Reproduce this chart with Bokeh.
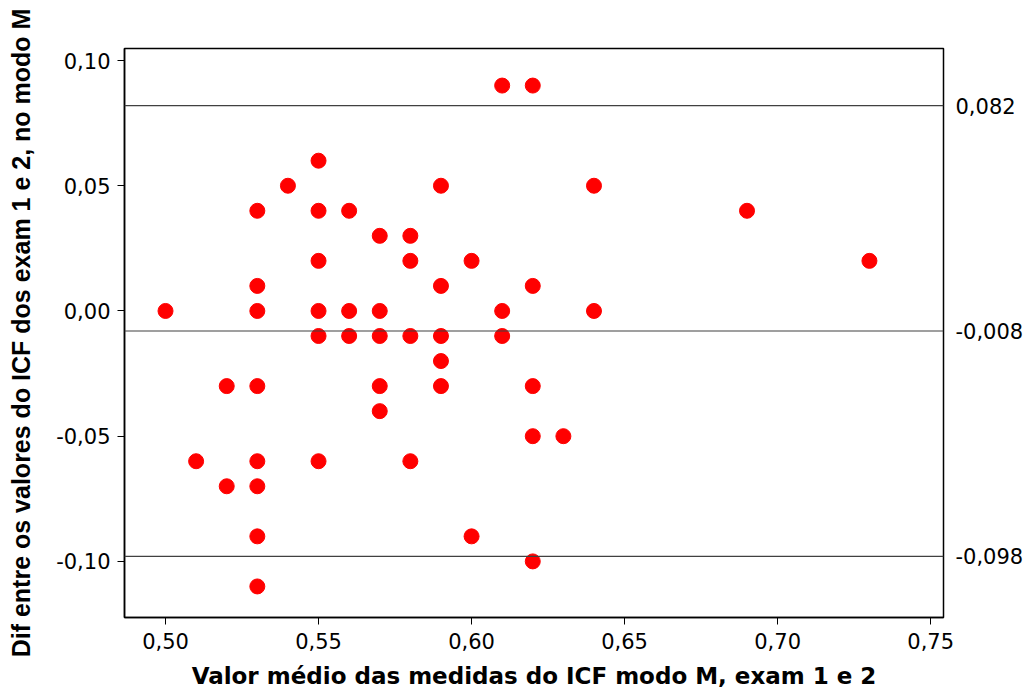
from bokeh.plotting import figure
from bokeh.models import FixedTicker, CustomJSTickFormatter, LinearAxis, Span, Range1d
from bokeh.embed import file_html
from bokeh.resources import INLINE

# data: mean of exam 1 & 2 (x), difference (y)
mean_vals = [0.50, 0.51, 0.52, 0.52, 0.53, 0.53, 0.53, 0.53, 0.53, 0.53, 0.53, 0.53,
             0.54, 0.55, 0.55, 0.55, 0.55, 0.55, 0.55, 0.56, 0.56, 0.56,
             0.57, 0.57, 0.57, 0.57, 0.57, 0.58, 0.58, 0.58, 0.58,
             0.59, 0.59, 0.59, 0.59, 0.59, 0.60, 0.60, 0.61, 0.61, 0.61,
             0.62, 0.62, 0.62, 0.62, 0.62, 0.63, 0.64, 0.64, 0.69, 0.73]
diff_vals = [0.00, -0.06, -0.03, -0.07, 0.04, 0.01, 0.00, -0.03, -0.06, -0.07, -0.09, -0.11,
             0.05, 0.06, 0.04, 0.02, 0.00, -0.01, -0.06, 0.04, 0.00, -0.01,
             0.03, 0.00, -0.01, -0.03, -0.04, 0.03, 0.02, -0.01, -0.06,
             0.05, 0.01, -0.01, -0.02, -0.03, 0.02, -0.09, 0.09, 0.00, -0.01,
             0.09, 0.01, -0.03, -0.05, -0.10, -0.05, 0.05, 0.00, 0.04, 0.02]
ref_lines = [0.082, -0.008, -0.098]
x_ticks = [0.50, 0.55, 0.60, 0.65, 0.70, 0.75]
y_ticks = [-0.10, -0.05, 0.00, 0.05, 0.10]

p = figure(width=1028, height=691, output_backend="svg", toolbar_location=None,
           x_range=Range1d(0.4866, 0.7542), y_range=Range1d(-0.1224, 0.1048),
           min_border_left=124, min_border_right=85, min_border_top=48, min_border_bottom=74)
p.grid.visible = False
p.outline_line_color = "black"
p.outline_line_width = 1.5
p.background_fill_color = "white"
p.border_fill_color = "white"

tick_font = "DejaVu Sans"

p.xaxis.ticker = FixedTicker(ticks=x_ticks)
p.yaxis.ticker = FixedTicker(ticks=y_ticks)
fmt2 = CustomJSTickFormatter(code="return tick.toFixed(2).replace('.', ',');")
p.xaxis.formatter = fmt2
p.yaxis.formatter = fmt2
for ax in (p.xaxis[0], p.yaxis[0]):
    ax.major_tick_out = 7
    ax.major_tick_in = 0
    ax.minor_tick_out = 0
    ax.minor_tick_in = 0
    ax.axis_line_color = "black"
    ax.axis_line_width = 1.5
    ax.major_tick_line_color = "black"
    ax.major_tick_line_width = 1
    ax.major_label_text_font = tick_font
    ax.major_label_text_font_size = "21px"
    ax.major_label_text_color = "black"
    ax.axis_label_text_color = "black"
    ax.axis_label_text_font_style = "bold"

p.xaxis.axis_label = "Valor médio das medidas do ICF modo M, exam 1 e 2"
p.xaxis.axis_label_text_font = "DejaVu Sans"
p.xaxis.axis_label_text_font_size = "23px"
p.xaxis.major_label_standoff = 8
p.xaxis.axis_label_standoff = 11

p.yaxis.axis_label = "Dif entre os valores do ICF dos exam 1 e 2, no modo M"
p.yaxis.axis_label_text_font = "Liberation Sans"
p.yaxis.axis_label_text_font_size = "25px"
p.yaxis.major_label_standoff = 7
p.yaxis.axis_label_standoff = 18

right = LinearAxis(ticker=FixedTicker(ticks=ref_lines),
                   formatter=CustomJSTickFormatter(code="return tick.toFixed(3).replace('.', ',');"))
right.major_tick_out = 0
right.major_tick_in = 0
right.minor_tick_out = 0
right.minor_tick_in = 0
right.axis_line_color = None
right.major_label_text_font = tick_font
right.major_label_text_font_size = "21px"
right.major_label_text_color = "black"
right.major_label_standoff = 12
p.add_layout(right, "right")

for v in ref_lines:
    p.add_layout(Span(location=v, dimension="width", line_color="#404040", line_width=1.2))

p.scatter(mean_vals, diff_vals, size=15, color="red", line_color="red")

open("out.html", "w").write(file_html(p, INLINE))
